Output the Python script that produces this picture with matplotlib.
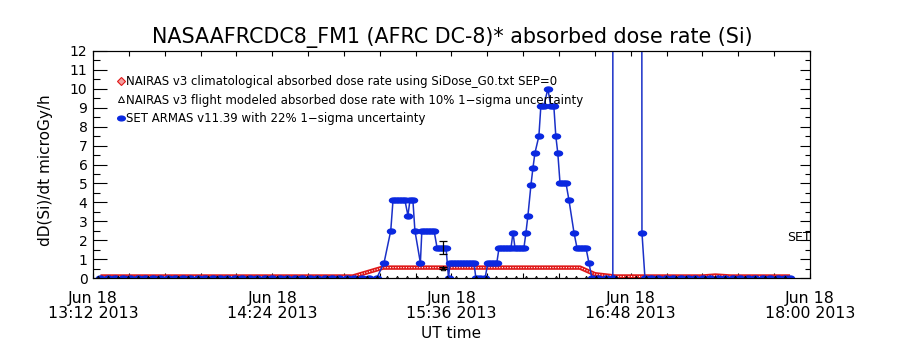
import pandas as pd
import matplotlib
matplotlib.use("Agg")
import matplotlib.pyplot as plt
import matplotlib.dates as mdates
from matplotlib.lines import Line2D
from matplotlib.path import Path
from matplotlib.ticker import FixedLocator, MultipleLocator, FuncFormatter

# time axis: minutes after Jun 18 2013 13:12 UT
start = pd.Timestamp("2013-06-18 13:12")
span_min = 288

# NAIRAS v3 climatological (SEP=0)
clim_min = [3, 104.4, 116.5, 195.6, 201.6, 209.6, 245, 250, 256, 280]
clim_val = [0.08, 0.08, 0.55, 0.55, 0.2, 0.08, 0.08, 0.13, 0.08, 0.08]

# NAIRAS v3 flight modeled
flight_min = [2, 6, 10, 14, 18, 22, 26, 30, 34, 38, 42, 46, 50, 54, 58, 62, 66,
              70, 74, 78, 82, 86, 90, 94, 98, 102, 106, 110, 114, 118, 122, 126,
              130, 134, 138, 140.6, 142, 146, 150, 154, 158, 162, 166, 170, 174,
              178, 182, 186, 190, 194, 198, 202, 206, 210, 214, 218, 222, 226,
              230, 234, 238, 242, 246, 250, 254, 258, 262, 266, 270, 274, 278]
flight_val = [0.0] * 35 + [0.55] + [0.0] * 35
flight_sigma_min = [140.6]
flight_sigma_val = [0.55]

# SET ARMAS v11.39
set_min = [3, 6, 9, 12, 15, 18, 21, 24, 27, 30, 33, 36, 39, 42, 45, 48, 51, 54,
           57, 60, 63, 66, 69, 72, 75, 78, 81, 84, 87, 90, 93, 96, 99, 102, 105,
           108, 111, 114,
           116.9, 119.6, 120.5, 121.7, 122.9, 124.1, 125.3, 126.5, 127.3, 128.5,
           129.3, 131.5, 132.1, 133.3, 134.5, 135.7, 137.0, 138.2, 139.4, 140.6,
           141.8, 142.8, 143.4, 144.6, 145.8, 147.0, 148.2, 149.4, 150.6, 151.8,
           153.0, 153.8, 155.5, 157.5, 158.6, 159.8, 161.0, 162.2, 163.1, 164.3,
           165.5, 166.7, 167.9, 168.7, 169.5, 170.7, 171.9, 173.1, 173.9, 174.7,
           175.9, 176.7, 177.5, 179.1, 179.9, 181.1, 182.7, 183.9, 185.1, 185.9,
           186.7, 187.6, 188.8, 190.0, 191.2, 193.2, 194.4, 195.6, 196.8, 198.0,
           199.2, 200.4, 203, 206, 208.8, 209.0, 219.3, 220.5, 221.7,
           224, 227, 230, 233, 236, 239, 242, 245, 248, 251, 254, 257, 260, 263,
           266, 269, 272, 275, 278, 280]
set_val = [0.0] * 38 + [
           0.8, 2.5, 4.1, 4.1, 4.1, 4.1, 4.1, 3.3, 4.1, 4.1,
           2.5, 0.8, 2.5, 2.5, 2.5, 2.5, 2.5, 1.6, 1.6, 1.6,
           1.6, 0.0, 0.8, 0.8, 0.8, 0.8, 0.8, 0.8, 0.8, 0.8,
           0.8, 0.0, 0.0, 0.0, 0.8, 0.8, 0.8, 0.8, 1.6, 1.6,
           1.6, 1.6, 1.6, 2.4, 1.6, 1.6, 1.6, 1.6, 2.4, 3.3,
           4.9, 5.8, 6.6, 7.5, 9.1, 9.1, 10.0, 9.1, 9.1, 7.5,
           6.6, 5.0, 5.0, 5.0, 4.1, 2.4, 1.6, 1.6, 1.6, 1.6,
           0.8, 0.0, 0.0, 0.0, 0.0, 300.0, 300.0, 2.4, 0.0] + [0.0] * 20
set_sigma_min = [140.6]
set_sigma_val = [1.6]


def to_time(mins):
    return [start + pd.Timedelta(minutes=m) for m in mins]


blue = "#0a28e0"
red = "#e01818"

# wide rounded marker like the IDL symbol
circ = Path.unit_circle()
ell = Path(circ.vertices * [1.0, 0.62], circ.codes)

fig = plt.figure(figsize=(9, 3.5), dpi=100)
ax = fig.add_axes([93 / 900, 72 / 350, 717 / 900, 227 / 350])

ax.plot(to_time(clim_min), clim_val, color=red, lw=3.2, solid_capstyle="butt", zorder=2)
ax.plot(to_time(clim_min), clim_val, color="white", lw=0.8, ls=(0, (1, 1.4)), zorder=2.1)

ax.plot(to_time(set_min), set_val, color="#1a30c8", lw=1.1, marker=ell, ms=5.8,
        mfc=blue, mec=blue, zorder=3)
ax.errorbar(to_time(set_sigma_min), set_sigma_val,
            yerr=[0.22 * v for v in set_sigma_val], fmt="none",
            ecolor="black", elinewidth=0.9, capsize=3, capthick=0.9, zorder=4)

ax.plot(to_time(flight_min), flight_val, ls="none", marker="^", ms=3.2,
        mfc="none", mec="black", mew=0.7, zorder=4)
ax.errorbar(to_time(flight_sigma_min), flight_sigma_val,
            yerr=[0.1 * v for v in flight_sigma_val], fmt="none",
            ecolor="black", elinewidth=0.9, capsize=3, capthick=0.9, zorder=4)

ax.set_xlim(start, start + pd.Timedelta(minutes=span_min))
ax.set_ylim(0, 12)

major = [start + pd.Timedelta(minutes=72 * k) for k in range(5)]
minor = [start + pd.Timedelta(minutes=14.4 * k) for k in range(21)]
ax.xaxis.set_major_locator(FixedLocator(mdates.date2num(major)))
ax.xaxis.set_minor_locator(FixedLocator(mdates.date2num(minor)))
ax.xaxis.set_major_formatter(FuncFormatter(
    lambda x, p: mdates.num2date(x).strftime("Jun 18\n%H:%M 2013")))
ax.yaxis.set_major_locator(MultipleLocator(1))
ax.yaxis.set_minor_locator(MultipleLocator(0.5))

ax.tick_params(axis="x", which="both", direction="in", top=True, length=3.3,
               width=0.8, labelsize=11.3, pad=9)
ax.tick_params(axis="y", which="major", direction="in", length=10, width=0.8,
               labelsize=10, pad=4)
ax.tick_params(axis="y", which="minor", direction="in", length=5, width=0.8)
for lab in ax.get_xticklabels():
    lab.set_linespacing(1.0)

ax2 = ax.twinx()
ax2.set_ylim(0, 12)
ax2.yaxis.set_major_locator(MultipleLocator(1))
ax2.yaxis.set_minor_locator(MultipleLocator(0.5))
ax2.tick_params(axis="y", which="major", direction="in", length=7, width=0.8, labelright=False)
ax2.tick_params(axis="y", which="minor", direction="in", length=3.6, width=0.8)

for a in (ax, ax2):
    for s in a.spines.values():
        s.set_linewidth(0.8)

handles = [
    Line2D([], [], ls="none", marker="D", ms=4, mec=red, mfc="#f4a0a0", mew=0.8),
    Line2D([], [], ls="none", marker="^", ms=4.5, mec="black", mfc="none", mew=0.7),
    Line2D([], [], ls="none", marker=ell, ms=5.5, mec=blue, mfc=blue),
]
labels = [
    "NAIRAS v3 climatological absorbed dose rate using SiDose_G0.txt SEP=0",
    "NAIRAS v3 flight modeled absorbed dose rate with 10% 1\u2212sigma uncertainty",
    "SET ARMAS v11.39 with 22% 1\u2212sigma uncertainty",
]
ax.legend(handles, labels, loc="upper left", bbox_to_anchor=(0.034, 0.893),
          frameon=False, fontsize=8.5, handlelength=0.6, handletextpad=0.1,
          labelspacing=0.45, borderaxespad=0, borderpad=0)

ax.text(0.968, 0.18, "SET", transform=ax.transAxes, fontsize=9,
        ha="left", va="center")

fig.text(452 / 900, 1 - 38 / 350, "NASAAFRCDC8_FM1 (AFRC DC-8)* absorbed dose rate (Si)",
         fontsize=14.9, ha="center", va="center")
fig.text(46 / 900, 1 - 170 / 350, "dD(Si)/dt microGy/h", rotation=90,
         fontsize=11, ha="center", va="center")
fig.text(451 / 900, 1 - 333 / 350, "UT time", fontsize=11, ha="center", va="center")

fig.savefig("out.png", dpi=100)
